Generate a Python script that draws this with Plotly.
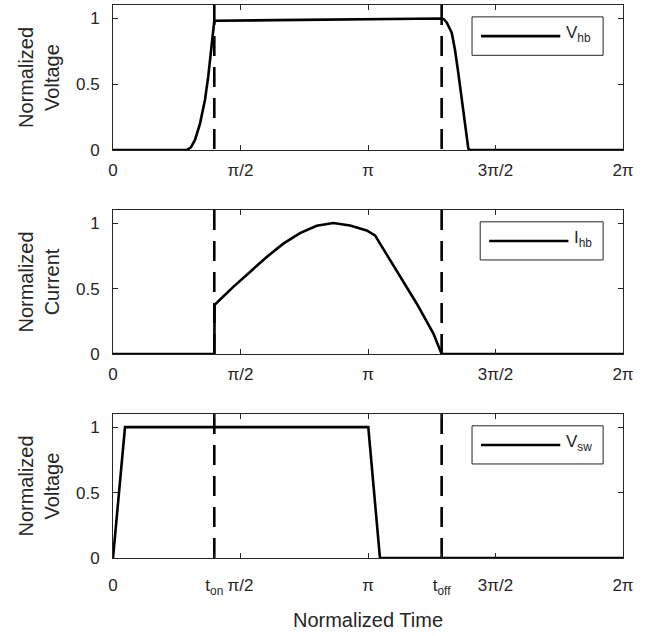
import numpy as np
import plotly.graph_objects as go
from plotly.subplots import make_subplots

PI = np.pi
t_on = 1.248
t_off = 4.049

# V_hb (normalized half-bridge voltage)
vhb_t = [0.0, 0.908, 0.96, 1.010, 1.072, 1.133, 1.174, 1.216, 1.248, 2.0, 3.0, 3.8, 4.049,
         4.080, 4.111, 4.173, 4.213, 4.254, 4.296, 4.337, 4.377, 4.390, 2 * PI]
vhb_v = [0.0, 0.0, 0.02, 0.076, 0.20, 0.38, 0.56, 0.81, 0.98, 0.985, 0.992, 0.997, 0.998,
         0.99, 0.967, 0.89, 0.76, 0.585, 0.38, 0.18, 0.013, 0.0, 0.0]

# I_hb (normalized half-bridge current)
ihb_t = [0.0, 1.248, 1.252, 1.482, 1.688, 1.894, 2.098, 2.304, 2.509, 2.714, 2.920, 3.125,
         3.228, 3.536, 3.741, 3.946, 4.049, 2 * PI]
ihb_v = [0.0, 0.0, 0.375, 0.513, 0.627, 0.741, 0.843, 0.924, 0.980, 1.0, 0.982, 0.944,
         0.906, 0.589, 0.386, 0.158, 0.0, 0.0]

# V_sw (normalized switch voltage)
vsw_t = [0.0, 0.148, 3.145, 3.289, 2 * PI]
vsw_v = [0.0, 1.0, 1.0, 0.0, 0.0]

series = [("V", "hb", vhb_t, vhb_v), ("I", "hb", ihb_t, ihb_v), ("V", "sw", vsw_t, vsw_v)]
ytitles = ["Normalized<br>Voltage", "Normalized<br>Current", "Normalized<br>Voltage"]

xtick_vals = [0, PI / 2, PI, 3 * PI / 2, 2 * PI]
xtick_text = ["0", "π/2", "π", "3π/2", "2π"]
xtick_vals_bottom = [0, t_on, PI / 2, PI, t_off, 3 * PI / 2, 2 * PI]
xtick_text_bottom = ["0", "t<sub>on</sub>", "π/2", "π", "t<sub>off</sub>", "3π/2", "2π"]
ytick_vals = [0, 0.5, 1]
ytick_text = ["0", "0.5", "1"]

FONT = "Liberation Sans, Arial, sans-serif"
AX = "#262626"
TICK_SIZE = 17
TITLE_SIZE = 20

fig = make_subplots(rows=3, cols=1)
domains = [[0.7378, 1.0], [0.3689, 0.6293], [0.0, 0.2604]]

for i, (sym, sub, tt, vv) in enumerate(series):
    r = i + 1
    fig.add_trace(go.Scatter(x=tt, y=vv, mode="lines", line=dict(color="black", width=2.6),
                             showlegend=False, hoverinfo="skip"), row=r, col=1)
    for tv in (t_on, t_off):
        fig.add_trace(go.Scatter(x=[tv, tv], y=[1.1, 0], mode="lines",
                                 line=dict(color="black", width=2.6, dash="20px,11px"),
                                 showlegend=False, hoverinfo="skip"), row=r, col=1)

    bottom = (r == 3)
    fig.update_xaxes(row=r, col=1, range=[0, 2 * PI], domain=[0, 1],
                     tickmode="array",
                     tickvals=xtick_vals_bottom if bottom else xtick_vals,
                     ticktext=xtick_text_bottom if bottom else xtick_text,
                     ticks="inside", ticklen=5, tickcolor=AX, tickwidth=1,
                     showline=True, linecolor=AX, linewidth=1, mirror="allticks",
                     showgrid=False, zeroline=False,
                     ticklabelstandoff=12 if bottom else 5,
                     tickfont=dict(family=FONT, size=TICK_SIZE, color=AX))
    fig.update_yaxes(row=r, col=1, range=[0, 1.1], domain=domains[i],
                     tickmode="array", tickvals=ytick_vals, ticktext=ytick_text,
                     ticks="inside", ticklen=5, tickcolor=AX, tickwidth=1,
                     showline=True, linecolor=AX, linewidth=1, mirror="allticks",
                     showgrid=False, zeroline=False, ticklabelstandoff=9,
                     tickfont=dict(family=FONT, size=TICK_SIZE, color=AX),
                     title=dict(text=ytitles[i], font=dict(family=FONT, size=TITLE_SIZE, color=AX),
                                standoff=10))

    # legend box (top-right, inside axes)
    xr = "x domain" if r == 1 else f"x{r} domain"
    yr = "y domain" if r == 1 else f"y{r} domain"
    box_left = 0.704 if sym == "V" else 0.720
    fig.add_shape(type="rect", xref=xr, yref=yr, x0=box_left, x1=0.961, y0=0.653, y1=0.918,
                  line=dict(color=AX, width=1), fillcolor="white", layer="above")
    fig.add_shape(type="line", xref=xr, yref=yr, x0=box_left + 0.0176, x1=box_left + 0.173,
                  y0=0.785, y1=0.785, line=dict(color="black", width=2.6), layer="above")
    fig.add_annotation(xref=xr, yref=yr, x=box_left + 0.180, y=0.80, xanchor="left",
                       yanchor="middle", showarrow=False,
                       text=f"{sym}<sub>{sub}</sub>",
                       font=dict(family=FONT, size=TICK_SIZE, color=AX))

fig.update_xaxes(row=3, col=1, title=dict(text="Normalized Time",
                                          font=dict(family=FONT, size=TITLE_SIZE, color=AX),
                                          standoff=16))

fig.update_layout(width=654, height=636, margin=dict(l=113, r=31, t=5, b=78),
                  paper_bgcolor="white", plot_bgcolor="white", showlegend=False)

fig.write_html("out.html", config={"displayModeBar": False},
               post_script="document.body.style.margin='0';")
